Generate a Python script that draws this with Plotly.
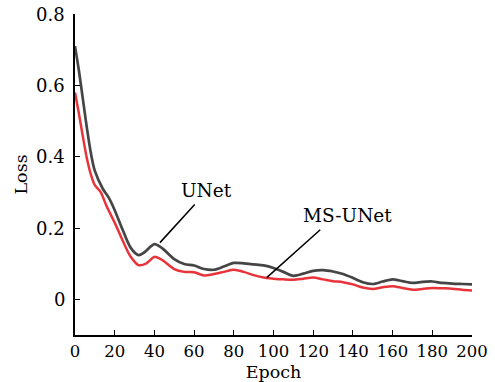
import plotly.graph_objects as go

# UNet loss curve
unet_epoch = [0, 2, 4, 6, 8, 10, 14, 17, 20, 24, 28, 32, 35, 40, 44, 50, 55, 60, 65, 70,
              75, 80, 85, 90, 95, 100, 105, 110, 115, 120, 125, 130, 135, 140, 145, 150,
              155, 160, 165, 170, 175, 180, 185, 190, 195, 200]
unet_loss = [0.71, 0.64, 0.56, 0.48, 0.41, 0.36, 0.31, 0.285, 0.25, 0.195, 0.145, 0.124,
             0.132, 0.155, 0.143, 0.113, 0.099, 0.095, 0.085, 0.083, 0.092, 0.102, 0.101,
             0.098, 0.095, 0.088, 0.077, 0.066, 0.072, 0.080, 0.082, 0.078, 0.071, 0.060,
             0.048, 0.043, 0.050, 0.056, 0.051, 0.046, 0.049, 0.050, 0.046, 0.044, 0.043,
             0.042]

# MS-UNet loss curve
ms_epoch = [0, 2, 4, 6, 8, 10, 13, 16, 20, 24, 28, 32, 36, 40, 44, 50, 55, 60, 65, 70,
            75, 80, 85, 90, 95, 100, 105, 110, 115, 120, 125, 130, 135, 140, 145, 150,
            155, 160, 165, 170, 175, 180, 185, 190, 195, 200]
ms_loss = [0.58, 0.52, 0.455, 0.395, 0.35, 0.32, 0.30, 0.26, 0.215, 0.165, 0.12, 0.096,
           0.101, 0.119, 0.110, 0.085, 0.077, 0.076, 0.067, 0.071, 0.077, 0.083, 0.077,
           0.068, 0.061, 0.058, 0.056, 0.055, 0.058, 0.061, 0.056, 0.051, 0.048, 0.042,
           0.033, 0.029, 0.034, 0.037, 0.032, 0.027, 0.029, 0.032, 0.031, 0.030, 0.027,
           0.025]

x_ticks = [0, 20, 40, 60, 80, 100, 120, 140, 160, 180, 200]
y_ticks = [0, 0.2, 0.4, 0.6, 0.8]
y_tick_labels = ["0", "0.2", "0.4", "0.6", "0.8"]

FONT = "DejaVu Serif"

fig = go.Figure()
fig.add_trace(go.Scatter(x=unet_epoch, y=unet_loss, mode="lines", name="UNet",
                         line=dict(color="#454545", width=2.7, shape="spline", smoothing=0.8)))
fig.add_trace(go.Scatter(x=ms_epoch, y=ms_loss, mode="lines", name="MS-UNet",
                         line=dict(color="#e8333a", width=2.5, shape="spline", smoothing=0.8)))

# leader lines
fig.add_annotation(x=42.8, y=0.159, ax=61, ay=0.27, axref="x", ayref="y", xref="x", yref="y",
                   text="", showarrow=True, arrowhead=0, arrowwidth=1.5, arrowcolor="black")
fig.add_annotation(x=96.6, y=0.061, ax=124.3, ay=0.199, axref="x", ayref="y", xref="x", yref="y",
                   text="", showarrow=True, arrowhead=0, arrowwidth=1.5, arrowcolor="black")
# labels
fig.add_annotation(x=66, y=0.304, text="UNet", showarrow=False,
                   font=dict(family=FONT, size=18.5, color="black"))
fig.add_annotation(x=137.3, y=0.235, text="MS-UNet", showarrow=False,
                   font=dict(family=FONT, size=18.5, color="black"))

# y tick labels placed close to the axis (as in the reference)
for v, t in zip(y_ticks, y_tick_labels):
    fig.add_annotation(x=0, xref="paper", y=v, yref="y", text=t, showarrow=False,
                       xanchor="right", yanchor="middle", xshift=-8,
                       font=dict(family=FONT, size=18, color="black"))

# y axis title
fig.add_annotation(x=0, xref="paper", y=0.5, yref="paper", text="Loss", showarrow=False,
                   textangle=-90, xanchor="center", yanchor="middle", xshift=-55,
                   font=dict(family=FONT, size=17.5, color="black"))

fig.update_layout(
    width=495, height=382,
    margin=dict(l=75, r=23, t=14, b=47, autoexpand=False),
    paper_bgcolor="white", plot_bgcolor="white",
    showlegend=False,
    font=dict(family=FONT, size=16, color="black"),
)
fig.update_xaxes(range=[0, 200], tickvals=x_ticks, ticks="inside", ticklen=5,
                 tickcolor="black", showline=True, linecolor="black", linewidth=1.5,
                 showgrid=False, zeroline=False, automargin=False,
                 tickfont=dict(family=FONT, size=16.5),
                 title=dict(text="Epoch", font=dict(family=FONT, size=17.5), standoff=6))
fig.update_yaxes(range=[-0.1, 0.8], tickvals=y_ticks, showticklabels=False,
                 ticks="inside", ticklen=5, tickcolor="black", showline=True,
                 linecolor="black", linewidth=1.5, showgrid=False, zeroline=False,
                 automargin=False)

fig.write_html("out.html")
